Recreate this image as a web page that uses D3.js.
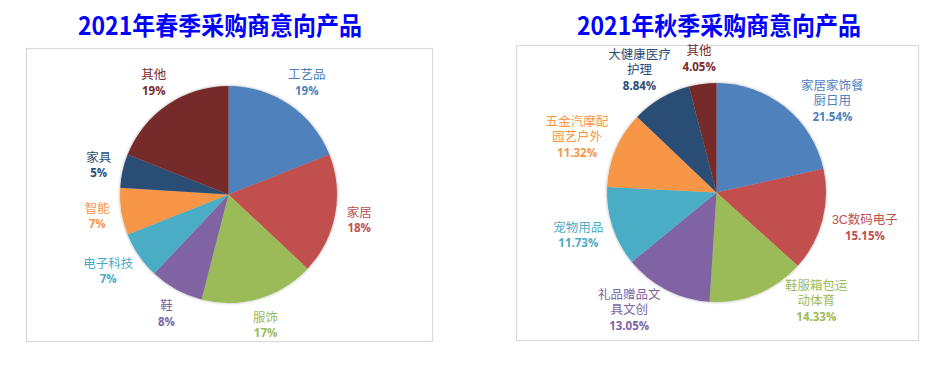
<!DOCTYPE html>
<html><head><meta charset="utf-8">
<script src="https://cdn.jsdelivr.net/npm/d3@7"></script>
<style>
html,body{margin:0;padding:0;background:#fff;}
svg{display:block;}
</style></head>
<body>
<svg id="chart" width="947" height="368"></svg>
<script>
// ---------- data ----------
const springTitle = "2021年春季采购商意向产品";
const springCategories = ["工艺品","家居","服饰","鞋","电子科技","智能","家具","其他"];
const springValues = [19, 18, 17, 8, 7, 7, 5, 19];

const autumnTitle = "2021年秋季采购商意向产品";
const autumnCategories = ["家居家饰餐厨日用","3C数码电子","鞋服箱包运动体育","礼品赠品文具文创","宠物用品","五金汽摩配园艺户外","大健康医疗护理","其他"];
const autumnValues = [21.54, 15.15, 14.33, 13.05, 11.73, 11.32, 8.84, 4.05];

// ---------- layout / style ----------
const palette = ["#4F81BD","#C0504D","#9BBB59","#8064A2","#4BACC6","#F79646","#2C4D75","#772C2A"];
const autumnLabelLines = [["家居家饰餐","厨日用"],["3C数码电子"],["鞋服箱包运","动体育"],["礼品赠品文","具文创"],["宠物用品"],["五金汽摩配","园艺户外"],["大健康医疗","护理"],["其他"]];
const springLabelLines = springCategories.map(c => [c]);
const autumnLabelNudgeDeg = [11, 0, -19, 8, 0, 0, 0, 0];
const springLabelNudgeDeg = [0, 0, 0, 0, 0, 0, 0, 0];

const svg = d3.select("#chart");
const defs = svg.append("defs");
const f = defs.append("filter").attr("id","sh").attr("x","-20%").attr("y","-20%").attr("width","140%").attr("height","140%");
f.append("feDropShadow").attr("dx",0).attr("dy",0).attr("stdDeviation",1.8).attr("flood-color","#000").attr("flood-opacity",0.35);

const titleFont = "'Noto Sans CJK SC','Noto Sans',sans-serif";
const nameFont = "'Liberation Sans','Noto Sans CJK SC',sans-serif";
const pctFont = "'Open Sans','Liberation Sans',sans-serif";

function drawPanel(cfg) {
  svg.append("rect")
    .attr("x", cfg.box[0] + 0.5).attr("y", cfg.box[1] + 0.5)
    .attr("width", cfg.box[2]).attr("height", cfg.box[3])
    .attr("fill", "#fff").attr("stroke", "#d9d9d9").attr("stroke-width", 1.2);
  svg.append("text")
    .attr("x", cfg.titleX).attr("y", 35)
    .attr("text-anchor", "middle")
    .attr("font-family", titleFont).attr("font-weight", 700)
    .attr("font-size", 25).attr("fill", "#0000FF")
    .attr("textLength", 284).attr("lengthAdjust", "spacingAndGlyphs")
    .text(cfg.title);

  const pie = d3.pie().sort(null).value(d => d)(cfg.values);
  const arc = d3.arc().innerRadius(0).outerRadius(cfg.r);
  const color = d3.scaleOrdinal().domain(d3.range(cfg.values.length)).range(palette);

  const g = svg.append("g").attr("transform", `translate(${cfg.cx},${cfg.cy})`);
  g.append("g").attr("filter", "url(#sh)")
    .selectAll("path").data(pie).join("path")
    .attr("d", arc)
    .attr("fill", (d, i) => color(i));

  const lineH = 15.5;
  pie.forEach((d, i) => {
    const lines = cfg.lines[i];
    const pctTxt = d3.format(cfg.fmt)(cfg.values[i]) + "%";
    const t = g.append("text").attr("text-anchor", "middle").attr("fill", color(i));
    const spans = [];
    lines.forEach(l => {
      spans.push(t.append("tspan").attr("font-family", nameFont).attr("font-size", 12.5).text(l));
    });
    spans.push(t.append("tspan").attr("font-family", pctFont).attr("font-weight", 700).attr("font-size", 11.5).text(pctTxt));
    const w = d3.max(spans, s => s.node().getComputedTextLength());
    const h = spans.length * 15;
    const a = (d.startAngle + d.endAngle) / 2 + cfg.nudge[i] * Math.PI / 180;
    const s = Math.sin(a), c = Math.cos(a);
    const R = cfg.r + cfg.gap;
    const bx = R * s + (w / 2) * s;
    const by = -R * c - (h / 2) * c;
    spans.forEach((sp, k) => {
      sp.attr("x", bx).attr("y", by - h / 2 + 7.5 + k * lineH + 4.5);
    });
  });
}

drawPanel({
  title: springTitle, titleX: 220, box: [26, 48, 406, 293],
  cx: 228.5, cy: 194.5, r: 108.5, gap: 12,
  values: springValues, lines: springLabelLines, fmt: ".0f", nudge: springLabelNudgeDeg
});
drawPanel({
  title: autumnTitle, titleX: 719, box: [516, 45, 402, 295],
  cx: 716.5, cy: 192.5, r: 109.5, gap: 11,
  values: autumnValues, lines: autumnLabelLines, fmt: ".2f", nudge: autumnLabelNudgeDeg
});
</script>
</body></html>
